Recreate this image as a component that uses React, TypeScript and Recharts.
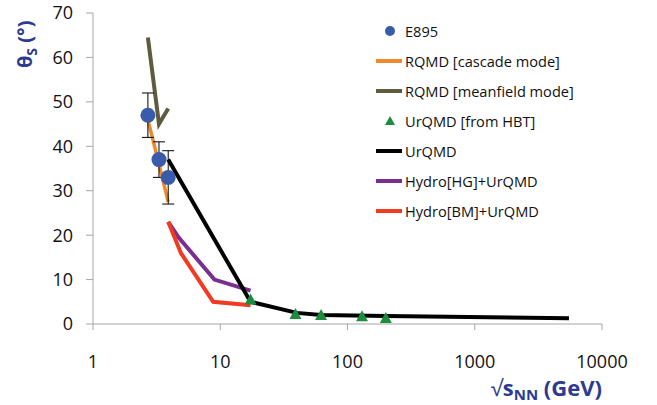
import React from "react";
import {
    ComposedChart,
    Line,
    Scatter,
    ErrorBar,
    XAxis,
    YAxis,
} from "recharts";

const xTicks = [1, 10, 100, 1000, 10000];
const yTicks = [0, 10, 20, 30, 40, 50, 60, 70];

const e895 = [
    { x: 2.7, y: 47, err: 5 },
    { x: 3.3, y: 37, err: 4 },
    { x: 3.9, y: 33, err: 6 },
];
const rqmdCascade = [
    { x: 2.7, y: 46 },
    { x: 3.3, y: 36 },
    { x: 3.9, y: 27.5 },
];
const rqmdMeanfield = [
    { x: 2.7, y: 64.5 },
    { x: 3.3, y: 45 },
    { x: 3.9, y: 48.5 },
];
const urqmdHbt = [
    { x: 17.3, y: 5.3 },
    { x: 39, y: 2 },
    { x: 62, y: 1.8 },
    { x: 130, y: 1.5 },
    { x: 200, y: 1.1 },
];
const urqmd = [
    { x: 3.9, y: 37 },
    { x: 17.3, y: 5 },
    { x: 40, y: 2.5 },
    { x: 62, y: 2 },
    { x: 200, y: 1.8 },
    { x: 5500, y: 1.3 },
];
const hydroHG = [
    { x: 3.9, y: 23 },
    { x: 4.7, y: 19.5 },
    { x: 9, y: 10 },
    { x: 17.3, y: 7.5 },
];
const hydroBM = [
    { x: 3.9, y: 23 },
    { x: 4.9, y: 16 },
    { x: 8.8, y: 5 },
    { x: 17.3, y: 4.2 },
];

const legendItems = [
    { name: "E895", color: "#3A5BAA", kind: "circle" },
    { name: "RQMD [cascade mode]", color: "#EE8A2C", kind: "line" },
    { name: "RQMD [meanfield mode]", color: "#5E5B3E", kind: "line" },
    { name: "UrQMD [from HBT]", color: "#1E8C3E", kind: "triangle" },
    { name: "UrQMD", color: "#000000", kind: "line" },
    { name: "Hydro[HG]+UrQMD", color: "#7A2E8E", kind: "line" },
    { name: "Hydro[BM]+UrQMD", color: "#F23A22", kind: "line" },
];

const titleColor = "#2E3A8F";
const axisColor = "#A6A6A6";
const font = "'Open Sans', sans-serif";

const LegendBox = () => (
    <div style={{ position: "absolute", left: 376, top: 16, fontFamily: font, fontSize: 14.6, color: "#111" }}>
        {legendItems.map((it) => (
            <div key={it.name} style={{ display: "flex", alignItems: "center", height: 30 }}>
                <svg width={28} height={12} style={{ marginRight: 1 }}>
                    {it.kind === "line" && (
                        <line x1={0} x2={26} y1={6} y2={6} stroke={it.color} strokeWidth={4} />
                    )}
                    {it.kind === "circle" && <circle cx={14} cy={6} r={5} fill={it.color} />}
                    {it.kind === "triangle" && (
                        <polygon points="14,1 19,10 9,10" fill={it.color} />
                    )}
                </svg>
                <span>{it.name}</span>
            </div>
        ))}
    </div>
);

const XTitle = ({ viewBox }: any) => {
    const right = viewBox.x + viewBox.width;
    return (
        <text x={right} y={396} textAnchor="end" fill={titleColor} fontFamily={font} fontWeight="bold" fontSize={22}>
            <tspan fontWeight="normal">√</tspan>
            <tspan>s</tspan>
            <tspan fontSize={15} dy={4}>NN</tspan>
            <tspan dy={-4}> (GeV)</tspan>
        </text>
    );
};

const YTitle = () => (
    <text
        x={0}
        y={0}
        transform="translate(32, 68) rotate(-90)"
        textAnchor="start"
        fill={titleColor}
        fontFamily={font}
        fontWeight="bold"
        fontSize={20}
    >
        <tspan>θ</tspan>
        <tspan fontSize={14} dy={5}>S</tspan>
        <tspan dy={-5}> (°)</tspan>
    </text>
);

const Dot = (p: any) => <circle cx={p.cx} cy={p.cy} r={7.5} fill="#3A5BAA" />;
const Tri = (p: any) => (
    <polygon
        points={`${p.cx},${p.cy - 7} ${p.cx + 6},${p.cy + 4} ${p.cx - 6},${p.cy + 4}`}
        fill="#1E8C3E"
    />
);

export default function App() {
    return (
        <div style={{ position: "absolute", left: 0, top: 0, width: 657, height: 405, background: "#fff" }}>
            <ComposedChart width={657} height={405} margin={{ top: 13, right: 55, bottom: 41, left: 33 }}>
                <XAxis
                    dataKey="x"
                    type="number"
                    scale="log"
                    domain={[1, 10000]}
                    ticks={xTicks}
                    allowDataOverflow
                    height={40}
                    stroke={axisColor}
                    tickSize={6}
                    tickMargin={25}
                    tick={{ fill: "#111", fontSize: 18, fontFamily: font }}
                    label={{ content: XTitle }}
                />
                <YAxis
                    dataKey="y"
                    type="number"
                    domain={[0, 70]}
                    ticks={yTicks}
                    width={60}
                    stroke={axisColor}
                    tickSize={7}
                    tickMargin={13}
                    tick={{ fill: "#111", fontSize: 18, fontFamily: font }}
                    label={{ content: YTitle }}
                />
                <Line data={rqmdCascade} dataKey="y" stroke="#EE8A2C" strokeWidth={3.5} dot={false} isAnimationActive={false} />
                <Line data={rqmdMeanfield} dataKey="y" stroke="#5E5B3E" strokeWidth={4} dot={false} isAnimationActive={false} />
                <Line data={hydroHG} dataKey="y" stroke="#7A2E8E" strokeWidth={4} dot={false} isAnimationActive={false} />
                <Line data={hydroBM} dataKey="y" stroke="#F23A22" strokeWidth={4} dot={false} isAnimationActive={false} />
                <Line data={urqmd} dataKey="y" stroke="#000000" strokeWidth={4} dot={false} isAnimationActive={false} />
                <Scatter data={e895} dataKey="y" fill="#3A5BAA" shape={Dot} isAnimationActive={false}>
                    <ErrorBar dataKey="err" direction="y" width={6} stroke="#000" strokeWidth={1} />
                </Scatter>
                <Scatter data={urqmdHbt} dataKey="y" fill="#1E8C3E" shape={Tri} isAnimationActive={false} />
            </ComposedChart>
            <LegendBox />
        </div>
    );
}
